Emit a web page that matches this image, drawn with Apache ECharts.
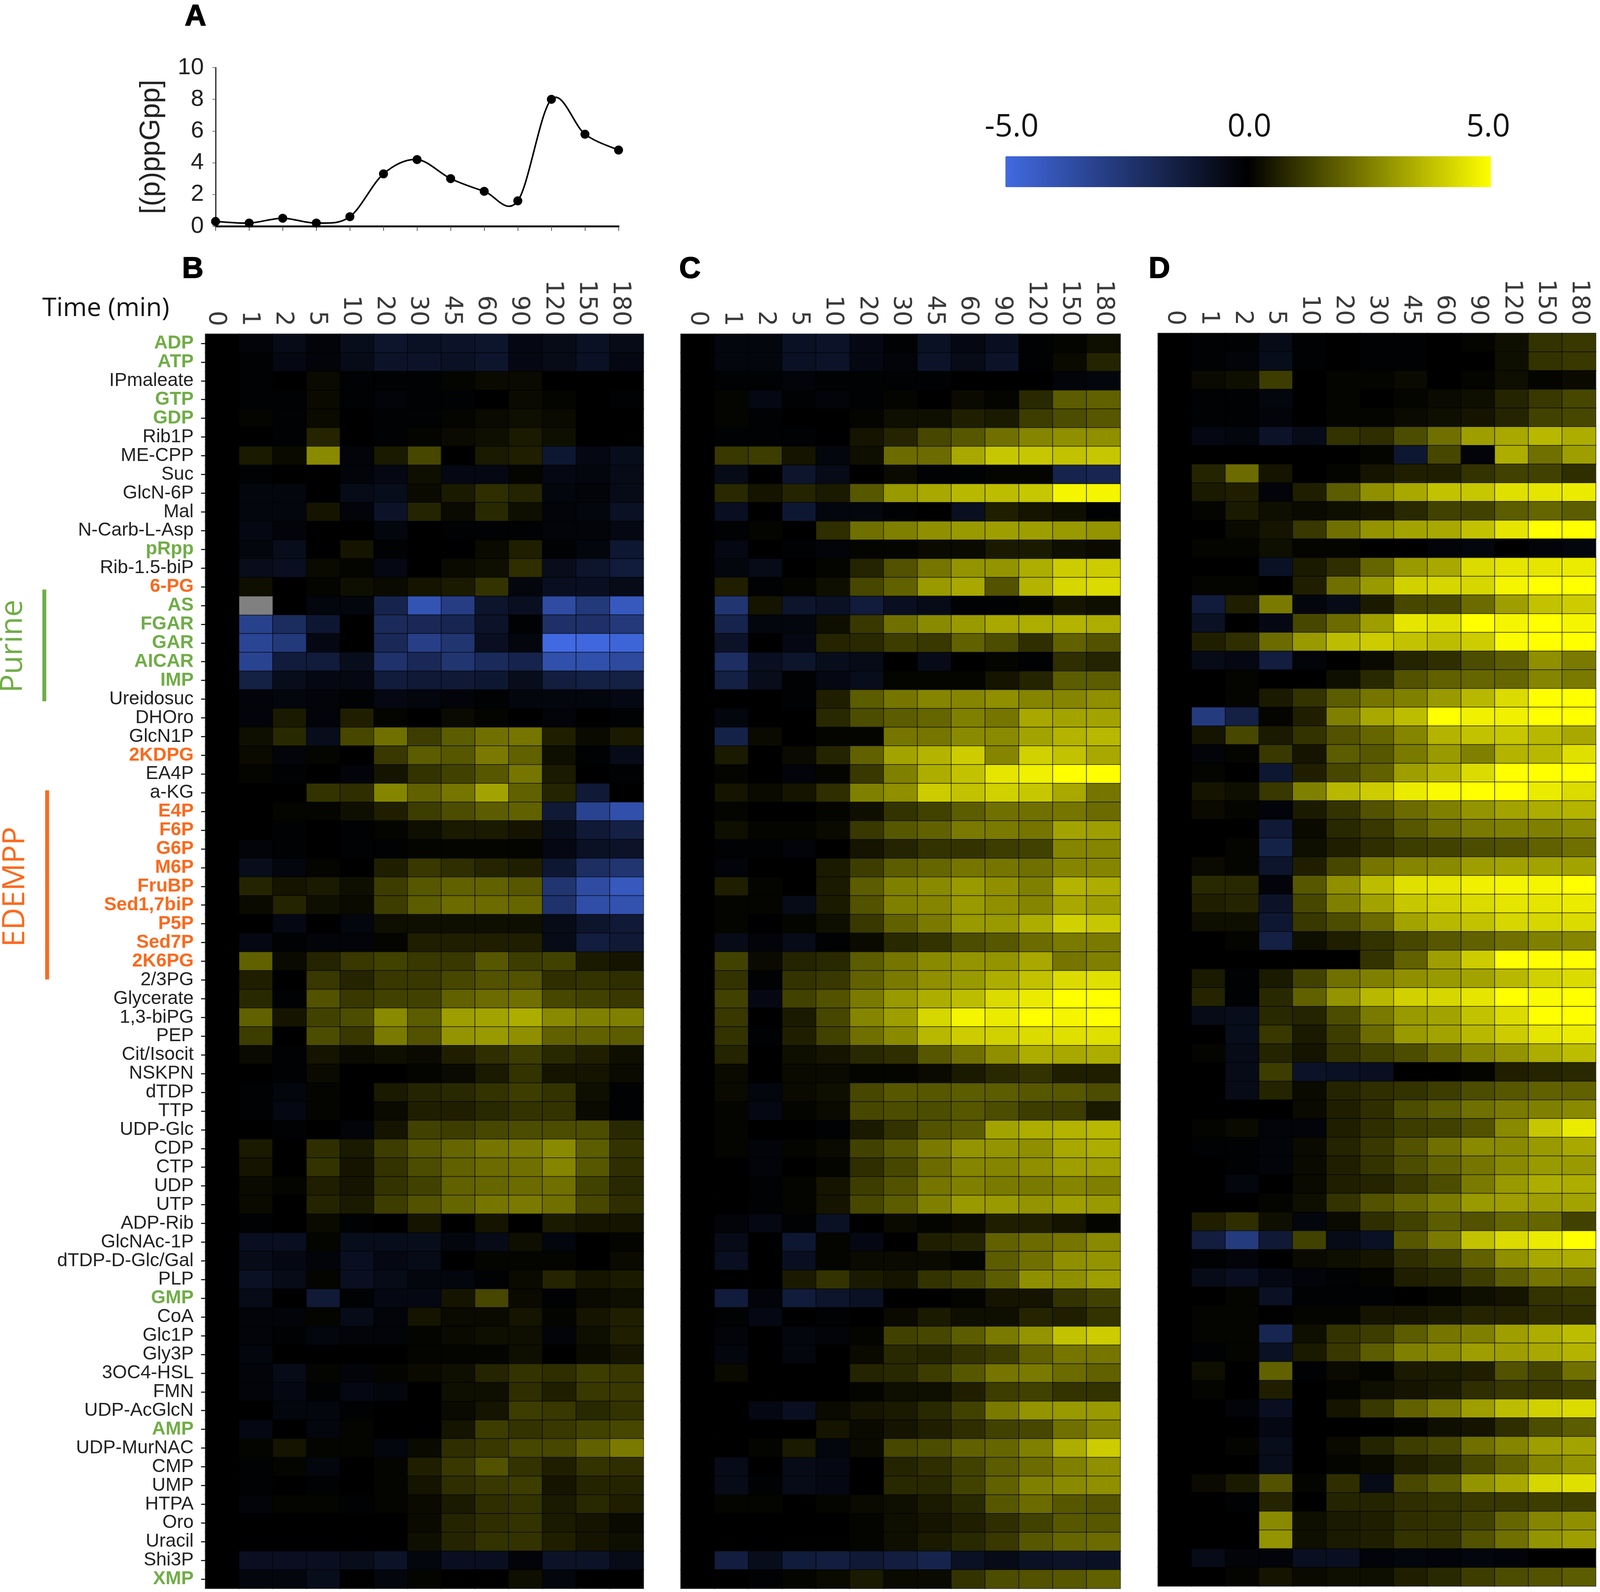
<!DOCTYPE html>
<html>
<head>
<meta charset="utf-8">
<title>(p)ppGpp metabolomics heatmap</title>
<script src="https://cdn.jsdelivr.net/npm/echarts@6/dist/echarts.min.js"></script>
<style>
  html, body { margin: 0; padding: 0; background: #fff; overflow: hidden; }
  #chart { width: 100vw; height: 100vh; }
</style>
</head>
<body>
<div id="chart"></div>
<script>
//---------------data---------------
const timeLabels = ['0', '1', '2', '5', '10', '20', '30', '45', '60', '90', '120', '150', '180']
const ppGpp = [0.3, 0.2, 0.5, 0.2, 0.6, 3.3, 4.2, 3, 2.2, 1.6, 8, 5.8, 4.8]
const colorbarLabels = ['-5.0', '0.0', '5.0']
const metabolites = ['ADP', 'ATP', 'IPmaleate', 'GTP', 'GDP', 'Rib1P', 'ME-CPP', 'Suc', 'GlcN-6P', 'Mal', 'N-Carb-L-Asp', 'pRpp', 'Rib-1.5-biP', '6-PG', 'AS', 'FGAR', 'GAR', 'AICAR', 'IMP', 'Ureidosuc', 'DHOro', 'GlcN1P', '2KDPG', 'EA4P', 'a-KG', 'E4P', 'F6P', 'G6P', 'M6P', 'FruBP', 'Sed1,7biP', 'P5P', 'Sed7P', '2K6PG', '2/3PG', 'Glycerate', '1,3-biPG', 'PEP', 'Cit/Isocit', 'NSKPN', 'dTDP', 'TTP', 'UDP-Glc', 'CDP', 'CTP', 'UDP', 'UTP', 'ADP-Rib', 'GlcNAc-1P', 'dTDP-D-Glc/Gal', 'PLP', 'GMP', 'CoA', 'Glc1P', 'Gly3P', '3OC4-HSL', 'FMN', 'UDP-AcGlcN', 'AMP', 'UDP-MurNAC', 'CMP', 'UMP', 'HTPA', 'Oro', 'Uracil', 'Shi3P', 'XMP']
const greenLabels = ['ADP', 'ATP', 'GTP', 'GDP', 'pRpp', 'AS', 'FGAR', 'GAR', 'AICAR', 'IMP', 'GMP', 'AMP', 'XMP']
const orangeLabels = ['6-PG', '2KDPG', 'E4P', 'F6P', 'G6P', 'M6P', 'FruBP', 'Sed1,7biP', 'P5P', 'Sed7P', '2K6PG']

// one row per metabolite, one value per time point, null = no data (grey cell)
const panelB = [
  [0,-.2,-.5,-.2,-.6,-1,-.8,-.9,-1,-.4,-.5,-.8,-.5],
  [0,-.1,-.4,-.2,-.5,-.9,-.9,-.8,-1,-.4,-.5,-.8,-.4],
  [0,-.1,0,.2,-.1,-.1,-.1,.1,.2,.2,0,0,0],
  [0,-.1,-.1,.2,-.1,-.2,-.1,-.1,0,.2,.1,0,-.1],
  [0,.1,-.1,.2,0,-.1,-.1,.1,.2,.3,.2,0,0],
  [0,0,-.1,.7,0,-.1,.1,.2,.3,.5,.3,0,0],
  [0,.5,.2,2.7,-.2,.5,1.4,0,.5,.6,-1.1,-.4,-.6],
  [0,-.1,0,0,-.2,-.4,.3,-.4,-.4,.1,-.4,-.3,-.5],
  [0,-.3,-.3,0,-.5,-.6,.2,.5,.9,.7,-.3,-.2,-.5],
  [0,-.3,-.3,.4,-.2,-.9,.7,.2,.8,.3,-.2,-.3,-.8],
  [0,-.4,-.2,0,0,-.3,0,-.1,-.1,-.1,-.2,-.2,-.4],
  [0,-.3,-.6,0,.4,-.1,0,0,.2,.6,-.1,-.3,-1.1],
  [0,-.6,-.7,.2,.1,-.4,0,.2,.3,.9,-.6,-1,-1.3],
  [0,.3,0,.1,.3,.2,.4,.5,1,-.3,-.7,-.7,-.5],
  [0,null,0,-.3,-.3,-1.7,-4,-2.9,-1,-.7,-3.6,-2.7,-4.2],
  [0,-3.1,-2.1,-1.1,0,-2,-1.9,-1.8,-.9,-.1,-2.3,-2.3,-2.7],
  [0,-3.3,-2.7,-.4,0,-1.9,-3,-2.5,-.7,-.3,-5,-4.9,-4.8],
  [0,-3.2,-1.3,-1.3,-.6,-2.4,-1.9,-2.5,-2,-1.7,-3.8,-3.8,-3.5],
  [0,-1.5,-.6,-.4,-.4,-1.3,-1.2,-1.2,-1.1,-.6,-1.4,-1.5,-1.5],
  [0,-.2,-.3,-.2,-.1,-.4,-.3,-.2,-.1,-.3,-.3,-.3,-.4],
  [0,-.2,.5,-.2,.6,.1,0,.2,.1,0,-.2,0,-.1],
  [0,.3,.8,-.6,1.4,2.2,1.2,1.8,2.2,2.3,.6,.2,.5],
  [0,.2,-.2,.1,0,1.1,1.8,1.7,2.4,1.9,.3,-.1,-.5],
  [0,.1,-.1,0,-.2,.4,1,1.3,1.7,2.3,.5,0,-.1],
  [0,0,0,1,.9,2.6,1.9,2.3,3.2,1.9,.7,-1.2,0],
  [0,0,.1,.1,.3,.6,1.2,1.5,1.8,1.9,-1.2,-3.2,-3.8],
  [0,0,-.1,0,-.1,.1,.3,.5,.5,.4,-.6,-1.2,-1.5],
  [0,-.2,-.1,0,-.1,-.1,.1,.1,.1,.1,-.4,-.8,-.9],
  [0,-.6,-.3,.1,0,.6,1.1,.9,.7,.6,-1.1,-2.2,-2.5],
  [0,.7,.4,.5,.3,1.2,1.7,1.9,1.9,1.7,-2.5,-3.6,-4.2],
  [0,.2,.7,.3,.2,1.2,1.8,2.1,2.1,2,-2.4,-3.7,-3.9],
  [0,0,-.4,0,-.3,.3,.3,.3,.3,.3,-.5,-1,-1.2],
  [0,-.4,-.1,-.2,-.2,.1,.6,.6,.6,.6,-.5,-1.4,-1.2],
  [0,1.9,.2,.7,1.1,1.3,1.1,1.1,1.7,1.2,1.3,.5,.4],
  [0,.6,0,1.1,.7,1.1,1.1,1.4,1.6,1.6,.9,1,.9],
  [0,.8,-.1,1.6,1.1,1.3,1.3,1.9,2.1,2.2,1.4,1.3,1.1],
  [0,1.9,.4,1.3,1.5,2.7,1.8,3.1,3.2,3.4,2.7,2.5,2.5],
  [0,1.2,0,1.5,1.1,2.4,1.6,2.9,3,2.8,1.9,1.9,1.8],
  [0,.2,-.1,.4,.2,.3,.2,.6,.9,1.2,.8,.6,.3],
  [0,0,-.1,.2,0,0,.1,.2,.5,1,.4,.4,.2],
  [0,-.1,-.3,.1,0,.5,.7,.8,1,1.2,1,.3,-.1],
  [0,-.1,-.4,.1,0,.2,.6,.6,.8,1,1,.2,-.1],
  [0,0,-.1,0,-.2,.4,1.3,1.2,1.4,1.5,1.5,1.5,.8],
  [0,.5,0,.9,.5,1.2,1.7,2,2.3,2.4,2.7,1.8,1],
  [0,.4,0,1,.4,1,1.5,1.9,2.1,2.2,2.6,1.7,.9],
  [0,.2,.1,.6,.4,1,1.3,1.9,2,2.1,2.2,1.3,.8],
  [0,.2,0,.7,.5,1.2,1.6,2,2.3,2.4,2.2,1.4,.9],
  [0,-.1,0,.2,-.1,0,.4,0,.4,0,.5,.4,.4],
  [0,-.7,-.7,.1,-.6,-.6,-.6,-.3,-.5,.3,-.3,0,.1],
  [0,-.5,-.4,-.2,-.7,-.4,-.5,0,.1,.1,.1,0,.2],
  [0,-.8,-.5,.1,-.7,-.5,-.3,-.3,-.1,.2,.7,.4,.5],
  [0,-.5,0,-1.2,-.1,-.4,-.4,.4,1.4,.2,-.1,.2,.3],
  [0,-.2,-.2,.1,-.5,-.2,.4,.2,.2,.4,.1,.4,.6],
  [0,-.2,-.1,-.3,-.2,-.2,.1,.2,.3,.3,-.2,.3,.6],
  [0,-.3,0,0,0,0,.1,.1,.1,.3,0,.2,.4],
  [0,-.2,-.5,.1,-.2,.1,.2,.3,.7,1,.9,1.2,1.1],
  [0,-.2,-.4,-.1,-.4,-.3,0,.3,.3,.9,.6,1.1,1.1],
  [0,0,-.3,-.3,-.1,0,0,.2,.4,1.2,1.1,.8,1],
  [0,-.4,0,-.3,.1,0,0,.4,1.2,1,1.1,1.3,1.4],
  [0,.1,.4,.1,.1,-.3,.2,.9,1.1,1.4,1.4,1.9,2.4],
  [0,-.1,.1,-.3,0,.1,.6,1.1,1.6,1,.6,1,.9],
  [0,-.1,0,-.1,0,.1,.4,.9,1.1,1.2,.4,.7,.7],
  [0,-.2,.1,.1,-.1,.1,.2,.5,.9,1,.5,.8,.6],
  [0,0,0,0,0,0,.2,.7,.9,1,.5,.4,.2],
  [0,0,0,0,0,0,.3,.7,1,1,.6,.4,.3],
  [0,-.7,-.7,-.7,-.6,-.9,-.3,-.7,-.7,-.2,-.9,-.9,-.5],
  [0,-.3,-.3,-.6,0,-.3,.1,0,0,.3,-.3,0,0]
]
const panelC = [
  [0,-.3,-.3,-.8,-.9,-.4,-.1,-.8,-.4,-.7,-.1,.1,.3],
  [0,-.3,-.3,-.8,-.9,-.4,-.2,-.9,-.5,-.9,-.1,.2,.7],
  [0,-.1,-.1,-.2,-.1,-.1,-.1,-.1,0,0,0,-.2,-.3],
  [0,.1,-.4,-.1,-.2,-.1,.1,0,.2,.1,.8,1.8,1.9],
  [0,.1,-.1,0,0,.1,.3,.3,.6,.5,1.2,1.5,1.7],
  [0,-.1,-.1,-.1,0,.4,.7,1.4,1.7,2.2,2.6,2.8,2.8],
  [0,1.1,1.2,.4,-.3,.3,2.1,2.1,3.3,3.9,3.9,3.8,3.9],
  [0,-.5,0,-1,-.5,0,.2,-.1,-.1,.1,.1,-1.7,-1.8],
  [0,.8,.4,.7,.5,1.7,3,3.3,3.6,3.7,3.9,4.8,4.8],
  [0,-.7,0,-1.1,-.3,-.3,-.1,0,-.7,.6,.4,.3,-.1],
  [0,-.1,.1,0,.9,2.2,2.5,2.8,3,3.1,3.1,3,2.9],
  [0,-.4,0,-.1,-.2,.1,.1,.2,.2,.5,.5,.3,.2],
  [0,-.3,-.5,0,.1,.7,1.6,2.3,2.9,2.9,3.4,4,4],
  [0,.6,-.1,.1,.3,1.4,1.9,3,3.3,1.6,3.5,4.2,4.3],
  [0,-2.5,.4,-1,-.8,-1.3,-.7,-.5,-.1,-.1,.1,.4,.3],
  [0,-1.7,-.3,-.3,.3,1.1,2.2,2.7,3,3.3,3.4,3.5,3.4],
  [0,-.9,0,-.4,.7,.8,1.2,1.1,1.9,1.5,.9,1.9,1.6],
  [0,-2.2,-.7,-1,-.6,-.5,0,-.5,0,.1,-.1,.9,.7],
  [0,-1.5,-.6,-.1,-.4,-.6,.1,.1,.1,.4,.7,1.8,1.8],
  [0,0,0,-.1,.6,1.8,2.3,2.6,2.6,2.8,2.6,2.6,2.8],
  [0,-.3,0,0,.8,1.5,1.8,2,2.5,2.3,3.3,3.2,3.2],
  [0,-1.6,.2,0,.1,.1,2.3,2.3,2.7,2.7,3.2,3.5,3.6],
  [0,.5,0,.2,.7,1.9,3.2,3.5,4,2.6,4.1,3.8,3.3],
  [0,.1,0,-.2,.1,1.1,2.5,3.4,3.8,4.5,4.7,5,5],
  [0,.4,.2,.4,.9,2.5,2.8,4,3.8,4.1,3.9,3.3,2.3],
  [0,.1,0,0,.1,.3,1,1.3,1.8,2.2,2.2,2.3,2.1],
  [0,.3,.1,.1,.2,1.1,1.7,1.9,2.4,2.4,2.3,3.2,3.1],
  [0,-.1,-.1,-.2,0,.4,.7,1,1,1.2,1.3,2.6,2.6],
  [0,-.2,0,0,.5,1.2,1.8,2,2.3,2.3,2.2,2.6,2.6],
  [0,.6,.1,0,.5,1.8,2.5,2.7,3,2.8,2.5,3.5,3.4],
  [0,.1,.1,-.5,.5,1.6,2.5,2.6,3,2.8,2.6,3.3,3.1],
  [0,.1,0,.1,.3,1.1,1.9,2.4,3,3,3.4,4.1,3.9],
  [0,-.5,-.2,-.5,-.1,.2,.8,1,1.5,1.7,2.1,2.4,2.4],
  [0,1.3,.2,.7,.8,1.8,2.3,2.7,2.9,2.9,3.3,2.3,2.5],
  [0,1,-.1,1,1.1,1.9,2.4,2.8,3,3.4,3.8,4.3,4.4],
  [0,1.3,-.4,1.3,1.6,2.4,3,3.4,3.7,4.3,4.6,5,5],
  [0,1.1,0,.5,1.4,2.6,3.1,4.2,4.8,4.6,5,4.8,5],
  [0,1,-.1,.6,1.3,2.2,2.7,3.6,4,4.1,4.3,4.4,4.4],
  [0,.7,0,.3,.4,.8,.9,1.7,2.2,2.8,3.4,3.3,3.4],
  [0,.2,0,.2,.2,.1,.1,.2,.5,.8,1,.6,.6],
  [0,.2,-.3,.2,.3,1.4,1.7,1.7,1.8,1.8,1.7,1.7,1.5],
  [0,.1,-.4,.1,.2,1.4,1.5,1.5,1.7,1.5,1.2,1.2,.5],
  [0,.1,0,0,-.1,.5,1,1.6,1.8,3.2,3.4,3.5,3.6],
  [0,.1,-.2,.1,.2,1.3,1.7,2.4,2.9,2.9,2.8,3.3,3.4],
  [0,0,-.2,0,.1,.9,1.4,2.1,2.6,2.6,2.8,3.1,3.1],
  [0,0,-.1,.1,.4,1.2,1.6,2.3,2.5,2.4,2.4,2.6,2.5],
  [0,0,-.1,.1,.4,1.4,1.8,2.5,3,3,2.9,3.1,3],
  [0,-.2,-.4,-.1,-.8,0,.2,.1,.2,.6,.6,.4,.1],
  [0,-.5,0,-1.1,.1,-.4,0,.6,.7,1.9,2.1,2.3,2.7],
  [0,-.7,0,-.7,.1,.2,.2,.2,.1,1.8,2.2,2.8,2.9],
  [0,0,0,.5,1,.5,.4,1,1.3,1.8,2.8,2.8,3.1],
  [0,-1.3,-.2,-1.3,-1,-.8,0,0,.1,.4,.4,1,1.3],
  [0,-.1,-.4,0,-.1,0,.2,.5,.3,.3,.7,.6,1],
  [0,-.2,0,-.3,-.2,.1,1.3,1.4,1.8,2.4,2.9,3.8,4],
  [0,-.3,0,-.3,0,.2,.8,.7,1,1.2,1.9,2.3,2.3],
  [0,.2,0,0,0,.7,.8,1.2,1.7,2.3,2.4,2.1,1.9],
  [0,0,0,0,0,.1,.3,.3,.6,1.2,1.3,1,1],
  [0,0,-.4,-.7,.2,.4,.5,.8,1.3,2.4,2.9,3,3],
  [0,0,0,0,.4,.2,.4,.6,.9,1.3,1.4,2.2,2.6],
  [0,0,.1,.5,-.3,.2,1.4,1.5,1.9,2,2.5,3.4,4],
  [0,-.5,0,-.5,-.4,0,.7,.9,1.3,1.8,2.1,2.5,2.8],
  [0,-.5,-.1,-.5,-.4,0,.8,.8,1.3,1.9,2.5,2.7,2.8],
  [0,.1,.1,0,.1,.2,.3,.5,.8,1.7,2.1,1.7,1.6],
  [0,0,0,0,0,.1,.3,.4,.6,.9,1.3,1.7,1.7],
  [0,0,0,0,0,.1,.3,.5,.8,1.1,1.7,2,2.1],
  [0,-1.4,-.6,-1.3,-1.4,-1.2,-1.4,-1.7,-.8,-.5,-.8,-.9,-.8],
  [0,0,-.1,.1,.2,.5,.2,.2,1,1.5,1.6,1.7,1.9]
]
const panelD = [
  [0,-.1,-.1,-.5,-.1,0,-.1,-.1,0,.1,.3,1,1.1],
  [0,-.1,-.2,-.6,-.1,0,-.1,-.1,0,0,.3,1,1.1],
  [0,.2,.3,1.2,0,.1,.1,.2,0,.1,.3,.1,.2],
  [0,-.1,-.1,-.3,0,.1,0,.1,.2,.3,.7,1.1,1.4],
  [0,-.1,-.1,-.2,0,.1,.1,.2,.3,.4,.7,1.3,1.4],
  [0,-.4,-.3,-.9,-.5,1,.9,1.5,2.2,3.1,3.3,3.6,3.4],
  [0,0,0,0,0,0,.1,-1.1,1.4,-.2,3.4,2.2,3.1],
  [0,.7,2.1,.4,0,.1,.4,.6,.6,1,1.3,1.3,.9],
  [0,.5,.6,-.2,.6,1.8,2.8,3.3,3.8,3.9,4.4,4.5,4.6],
  [0,.1,.5,.3,.2,.3,.4,.8,1.3,1.3,1.8,2,1.8],
  [0,0,.2,.4,1.1,2.2,2.9,3.2,3.3,3.8,4.5,5,5],
  [0,.1,.1,.3,.1,.1,0,0,-.2,-.3,0,-.2,-.3],
  [0,0,0,-.8,.5,.9,2,3,3.3,4.3,4.5,4.5,4.6],
  [0,.1,.1,0,.6,2.2,3,4.1,4.2,4.2,4.8,5,5],
  [0,-1.3,.6,2.4,-.3,-.5,.5,1.4,1.4,2.1,3.1,3.8,4],
  [0,-.8,0,-.4,1.4,2.1,3.1,4.5,4.4,5,4.8,5,4.8],
  [0,.6,.9,2.1,3,3.7,4,3.8,3.7,4,4.9,5,5],
  [0,-.5,-.4,-1.4,-.2,0,.2,.7,.9,1.5,1.8,2.8,2.4],
  [0,0,.1,0,0,.3,.8,1.6,1.9,2,2,2.6,2.4],
  [0,0,.1,.5,1,1.8,2.3,2.5,3,3.6,4.3,5,5],
  [0,-2.8,-1.5,.1,.6,2.5,3.3,3.7,5,4.7,4.7,5,5],
  [0,.4,1.4,.5,1,1.6,2,2.6,3.5,3.8,3.9,3.6,3.3],
  [0,-.2,.1,1.1,.4,1.8,1.7,2.4,3,2.5,3.5,3.6,4.4],
  [0,.1,0,-1.1,.6,1.4,1.9,3.1,3.5,4.3,5,5,5],
  [0,.4,.3,1.1,2.5,3.6,4,4.6,4.9,5,5,4.6,4.3],
  [0,.2,.1,-.2,.5,1,1.6,2.1,2.5,2.9,3.2,3.4,3.5],
  [0,0,0,-1.2,.2,.8,1.1,1.7,2.1,2.4,2.5,2.5,2.7],
  [0,0,.1,-1.6,.3,.6,.9,1.2,1.3,1.5,1.6,1.9,2.2],
  [0,.2,.1,-1,.6,1.4,2.3,2.6,2.7,3.1,3.2,3.2,3.2],
  [0,.8,.8,-.2,1.7,2.8,3.7,4.4,4.5,4.7,4.8,4.8,5],
  [0,.6,.7,-.9,1.4,2.5,3.2,3.9,4.1,4.3,4.5,4.5,4.6],
  [0,.3,.3,-1.1,1.1,1.5,2.1,3.2,3.6,3.8,4.2,4.2,4.3],
  [0,0,.1,-1.5,.3,.6,1,1.4,1.7,1.9,2.2,2.5,2.6],
  [0,0,0,0,0,0,1,1.9,3.1,4,5,5,5],
  [0,.5,-.1,.5,1.3,2.2,2.5,2.8,3,3.2,3.6,4.1,4.3],
  [0,.7,-.1,.8,1.9,2.9,3.6,4.1,4.2,4.5,5,4.9,5],
  [0,-.5,-.6,.8,.7,1.5,2.4,3,3.2,3.8,4.3,5,5],
  [0,0,-.6,1.1,.5,1.2,2.1,3,3.2,3.6,4,4.5,4.6],
  [0,.1,-.5,.7,.4,1,1.3,1.5,2,2.6,2.9,3.4,3.7],
  [0,0,-.5,1.2,-.9,-.8,-.7,0,0,.1,.6,.7,.8],
  [0,0,-.5,.7,.2,.7,.9,1,1.2,1.5,1.7,1.9,1.9],
  [0,0,0,0,.2,.6,.9,1.5,1.8,2.2,2.4,2.5,2.7],
  [0,.1,.2,-.2,-.2,.6,.9,1.2,1.3,1.6,2.7,3.9,4.6],
  [0,-.1,-.1,-.2,.2,.7,1.1,1.6,2.2,2.7,2.7,3,3.3],
  [0,0,-.1,-.2,.2,.6,1,1.5,1.9,2.3,2.7,3,3],
  [0,0,-.3,0,.2,.6,.7,1.1,1.5,2.4,3,3.4,3.4],
  [0,0,0,.1,.3,1,1.6,2,2.4,3,3.1,3.1,3.2],
  [0,.6,.9,.3,-.3,.2,.9,1.3,1.8,1.6,2,2,1.3],
  [0,-1.4,-2.8,-1.2,1.3,-.5,-.8,1.7,2.4,3.8,4.3,4.6,5],
  [0,-.1,-.2,0,.2,.3,.4,.9,1.2,1.9,2.8,3.3,3.4],
  [0,-.5,-.7,-.4,-.2,-.1,.1,.6,.7,1.2,1.8,2.3,2.2],
  [0,0,.1,-.8,-.1,-.1,-.1,0,.1,.3,.4,1,1.1],
  [0,.1,.1,0,.1,.1,.4,.4,.5,.7,.7,.9,.9],
  [0,.1,.1,-1.8,.3,1,1.2,1.8,2.3,2.5,3.1,3.4,3.7],
  [0,-.1,.1,-.8,.5,1.1,1.8,2.5,2.7,3.1,3.1,3.3,3.5],
  [0,.3,0,1.9,-.1,.2,.1,.5,.5,.6,1.6,1.3,2.2],
  [0,.1,0,.6,0,.1,.3,.4,.5,.9,1.1,1.1,1.3],
  [0,0,-.2,-.7,0,.4,1.1,1.9,2.4,3.1,3.7,4.1,4.3],
  [0,0,0,-.4,0,0,0,.1,.3,.4,.9,1.5,1.8],
  [0,0,.1,-.6,0,.2,.7,1.2,1.4,2.2,2.6,3.1,3.2],
  [0,0,0,-.6,0,.1,.2,.6,.8,1.4,1.9,2.6,2.9],
  [0,.2,.5,1.6,.1,.9,-.5,1.4,1.8,2.9,3.3,4.2,4.4],
  [0,0,-.1,.7,0,.7,.7,.9,1,1.1,1.1,1.2,1.2],
  [0,0,0,2.7,.3,.5,.6,.9,1,1.3,2,2.6,2.8],
  [0,0,0,2.9,.3,.5,.6,1,1,1.6,2.2,2.9,3.1],
  [0,-.5,-.2,-.2,-.7,-.7,-.2,-.3,-.2,-.3,-.2,0,0],
  [0,0,.1,.4,.2,.3,.3,.6,.8,1.2,1.5,1.6,1.8]
]

//---------------helpers---------------
const GREEN = '#70AD47'
const ORANGE = '#FA6A1E'
let myChart = echarts.init(document.querySelector('#chart'))
// the browser window can come out narrower than the 4550 wide figure, so x positions follow the real width
const sx = myChart.getWidth() / 4550
const X = px => px * sx

const cellsOf = rows => rows.flatMap((row, y) => row.map((v, x) => [x, y, v])).filter(c => c[2] !== null)
const missingOf = rows => rows.flatMap((row, y) => row.map((v, x) => [x, y, v])).filter(c => c[2] === null).map(c => [c[0], c[1], 0])

// shifted: the labels of panel B sit a little left of their columns in the figure
function timeAxis(gridIndex, shifted) {
  let axisLabel = { rotate: 90, margin: 20, interval: 0, fontFamily: 'DejaVu Sans', fontSize: 62, color: '#3a3a3a' }
  if (shifted) {
    axisLabel.verticalAlign = 'top'
    axisLabel.lineHeight = 34
  }
  return {
    type: 'category', gridIndex, position: 'top', data: timeLabels,
    axisLine: { show: false }, axisTick: { show: false }, splitLine: { show: false },
    axisLabel
  }
}
function metaboliteAxis(gridIndex, showLabels) {
  return {
    type: 'category', gridIndex, inverse: true, data: metabolites,
    axisLine: { show: false }, splitLine: { show: false },
    axisTick: { show: showLabels, alignWithLabel: true, length: 11, lineStyle: { color: '#222', width: 3 } },
    axisLabel: {
      show: showLabels, interval: 0, margin: 30,
      formatter: v => greenLabels.includes(v) ? `{g|${v}}` : orangeLabels.includes(v) ? `{o|${v}}` : `{k|${v}}`,
      rich: {
        g: { color: GREEN, fontFamily: 'Liberation Sans', fontWeight: 'bold', fontSize: 48 },
        o: { color: ORANGE, fontFamily: 'Liberation Sans', fontWeight: 'bold', fontSize: 48 },
        k: { color: '#222', fontFamily: 'Liberation Sans', fontSize: 48 }
      }
    }
  }
}
function heatSeries(name, rows, axisIndex) {
  return {
    name, type: 'heatmap', xAxisIndex: axisIndex, yAxisIndex: axisIndex, data: cellsOf(rows),
    progressive: 0, animation: false,
    itemStyle: { borderColor: 'rgba(0,0,0,0.6)', borderWidth: 2 }
  }
}
function sideText(text, x, y, color) {
  return { type: 'text', x: X(x), y, rotation: Math.PI / 2, style: { text, fill: color, font: '78px "Open Sans"', align: 'center', verticalAlign: 'middle' } }
}
function sideBar(x, y1, y2, color) {
  return { type: 'rect', shape: { x: X(x) - 5, y: y1, width: 10, height: y2 - y1 }, style: { fill: color } }
}
function letter(text, x, y) {
  return { type: 'text', x: X(x), y, style: { text, fill: '#000', stroke: '#000', lineWidth: 2, font: 'bold 76px "Liberation Sans"', align: 'center', verticalAlign: 'middle' } }
}
function barLabel(text, x) {
  return { type: 'text', x: X(x), y: 326, style: { text, fill: '#111', font: '80px "Open Sans"', align: 'center', verticalAlign: 'middle' } }
}
// spreadsheet style smooth line: each segment is a bezier whose handles follow the neighbouring points
function curveSegment(params, api) {
  const last = ppGpp.length - 1
  const i = params.dataIndex
  if (i === last) return
  const at = k => { const n = Math.min(last, Math.max(0, k)); return api.coord([n, ppGpp[n]]) }
  const p0 = at(i - 1), p1 = at(i), p2 = at(i + 1), p3 = at(i + 2)
  return {
    type: 'bezierCurve',
    shape: {
      x1: p1[0], y1: p1[1], x2: p2[0], y2: p2[1],
      cpx1: p1[0] + (p2[0] - p0[0]) / 6, cpy1: p1[1] + (p2[1] - p0[1]) / 6,
      cpx2: p2[0] - (p3[0] - p1[0]) / 6, cpy2: p2[1] - (p3[1] - p1[1]) / 6
    },
    style: { fill: null, stroke: '#000', lineWidth: 4 }
  }
}

//---------------chart---------------
let option = {
  backgroundColor: '#fff',
  animation: false,
  grid: [
    { left: X(584), top: 855, width: X(1246), height: 3211 },
    { left: X(1936), top: 855, width: X(1250), height: 3211 },
    { left: X(3293), top: 853, width: X(1245), height: 3207 },
    { left: X(613), top: 173, width: X(1146), height: 406 }
  ],
  xAxis: [
    timeAxis(0, true), timeAxis(1, false), timeAxis(2, false),
    {
      type: 'category', gridIndex: 3, data: timeLabels, boundaryGap: false,
      axisLabel: { show: false },
      axisLine: { lineStyle: { color: '#111', width: 5 } },
      axisTick: { alignWithLabel: true, length: 12, lineStyle: { color: '#555', width: 2 } }
    }
  ],
  yAxis: [
    metaboliteAxis(0, true), metaboliteAxis(1, false), metaboliteAxis(2, false),
    {
      type: 'value', gridIndex: 3, min: 0, max: 10, interval: 2,
      name: '[(p)ppGpp]', nameLocation: 'middle', nameGap: 128, nameRotate: 90,
      nameTextStyle: { fontFamily: 'Liberation Sans', fontSize: 72, color: '#222' },
      splitLine: { show: false },
      axisLine: { show: true, lineStyle: { color: '#222', width: 3 } },
      axisTick: { show: true, length: 8, lineStyle: { color: '#777', width: 2 } },
      axisLabel: { margin: 30, fontFamily: 'Liberation Sans', fontSize: 60, color: '#222' }
    }
  ],
  visualMap: {
    type: 'continuous', seriesIndex: [0, 1, 2], min: -5, max: 5, calculable: false, realtime: false,
    orient: 'horizontal', left: X(2859) - 15, top: 385, itemWidth: 79, itemHeight: X(1381),
    text: ['', ''], showLabel: false, hoverLink: false,
    inRange: { color: ['#4169E1', '#000000', '#FFFF00'] }
  },
  series: [
    heatSeries('B', panelB, 0),
    heatSeries('C', panelC, 1),
    heatSeries('D', panelD, 2),
    {
      name: 'points', type: 'line', xAxisIndex: 3, yAxisIndex: 3, data: ppGpp,
      symbol: 'circle', symbolSize: 23, showSymbol: true, clip: false, z: 5,
      lineStyle: { opacity: 0 }, itemStyle: { color: '#000' }
    },
    {
      name: 'curve', type: 'custom', xAxisIndex: 3, yAxisIndex: 3, clip: false, z: 4,
      data: ppGpp.map((v, i) => [i, v]), encode: { x: 0, y: 1 }, renderItem: curveSegment
    },
    {
      name: 'no data', type: 'heatmap', xAxisIndex: 0, yAxisIndex: 0, data: missingOf(panelB),
      itemStyle: { color: '#808080', borderColor: 'rgba(0,0,0,0.6)', borderWidth: 2 }
    }
  ],
  graphic: [
    letter('A', 556, 44), letter('B', 548, 690), letter('C', 1962, 690), letter('D', 3297, 690),
    { type: 'text', x: X(301), y: 790, style: { text: 'Time (min)', fill: '#111', font: '66px "Open Sans"', align: 'center', verticalAlign: 'middle' } },
    sideText('Purine', 38, 1654, GREEN), sideBar(126, 1509, 1795, GREEN),
    sideText('EDEMPP', 44, 2270, ORANGE), sideBar(134, 2023, 2507, ORANGE),
    barLabel(colorbarLabels[0], 2877), barLabel(colorbarLabels[1], 3553), barLabel(colorbarLabels[2], 4232)
  ]
}
myChart.setOption(option)
</script>
</body>
</html>
